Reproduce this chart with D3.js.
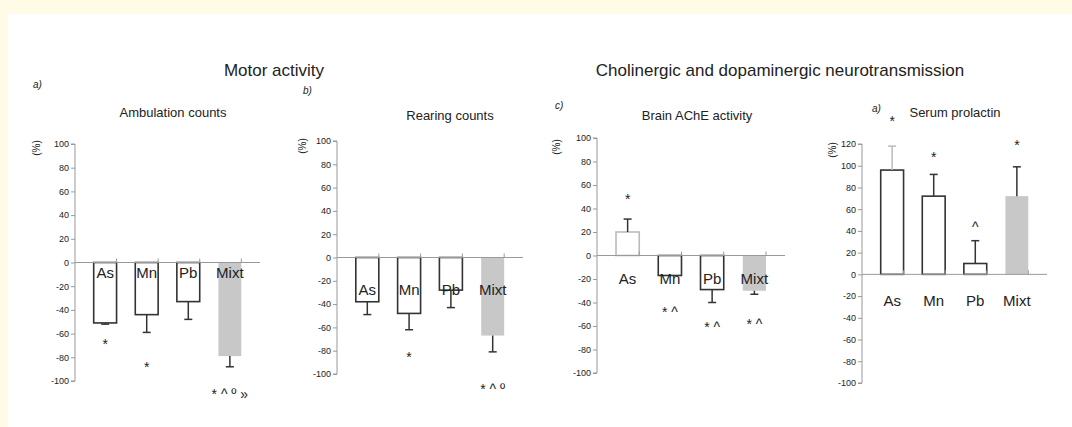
<!DOCTYPE html>
<html>
<head>
<meta charset="utf-8">
<script src="https://cdn.jsdelivr.net/npm/d3@7"></script>
<style>
  body { margin: 0; background: #fff; }
  svg text { font-family: "Liberation Sans Narrow", "Liberation Sans", Arial, sans-serif; fill: #222; }
</style>
</head>
<body>
<svg id="chart" width="1072" height="427"></svg>
<script>
// categories shared by the four panels
const categories = ["As", "Mn", "Pb", "Mixt"];

// a) ambulation counts (% of control)
const ambulation = [-51, -44, -33, -79];
const ambulationErr = [1, 15, 15, 9];
const ambulationSig = ["*", "*", "", "*  ^  º  »"];
const ambulationSigAt = [-68, -87, null, -110];

// b) rearing counts
const rearing = [-38, -48, -28, -67];
const rearingErr = [11, 14, 15, 14];
const rearingSig = ["", "*", "", "*  ^  º"];
const rearingSigAt = [null, -84, null, -112];

// c) brain AChE activity
const ache = [20, -17, -29, -30];
const acheErr = [11, 0, 11, 3];
const acheSig = ["*", "*  ^", "*  ^", "*  ^"];
const acheSigAt = [49, -47, -60, -57];

// d) serum prolactin
const prolactin = [96, 72, 10, 72];
const prolactinErr = [22, 20, 21, 27];
const prolactinSig = ["*", "*", "^", "*"];
const prolactinSigAt = [142, 109, 45, 120];

const ticksAC = [100, 80, 60, 40, 20, 0, -20, -40, -60, -80, -100];
const ticksD = [120, 100, 80, 60, 40, 20, 0, -20, -40, -60, -80, -100];

const svg = d3.select("#chart");

// cream frame on top and left
svg.append("rect").attr("width", 1072).attr("height", 427).attr("fill", "#fffbe6");
svg.append("rect").attr("x", 8).attr("y", 14).attr("width", 1064).attr("height", 413).attr("fill", "#fff");

// group titles
svg.append("text").attr("x", 274).attr("y", 76).attr("text-anchor", "middle")
  .style("font-size", "17px").text("Motor activity");
svg.append("text").attr("x", 780).attr("y", 76).attr("text-anchor", "middle")
  .style("font-size", "17px").text("Cholinergic and dopaminergic neurotransmission");

const panels = [
  { letter: "a)", title: "Ambulation counts", values: ambulation, err: ambulationErr, sig: ambulationSig, sigAt: ambulationSigAt,
    ticks: ticksAC, domain: [-100, 100], x0: 75, x1: 260, yTop: 144, yBot: 381,
    letterPos: [33, 88], titlePos: [173, 117], unitPos: [36, 148], labelDy: 10, faintBar: -1, faintErr: -1 },
  { letter: "b)", title: "Rearing counts", values: rearing, err: rearingErr, sig: rearingSig, sigAt: rearingSigAt,
    ticks: ticksAC, domain: [-100, 100], x0: 337, x1: 523, yTop: 141, yBot: 374,
    letterPos: [303, 94], titlePos: [450, 120], unitPos: [302, 146], labelDy: 32, faintBar: -1, faintErr: -1 },
  { letter: "c)", title: "Brain AChE activity", values: ache, err: acheErr, sig: acheSig, sigAt: acheSigAt,
    ticks: ticksAC, domain: [-100, 100], x0: 597, x1: 785, yTop: 138, yBot: 373,
    letterPos: [555, 109], titlePos: [697, 120], unitPos: [556, 147], labelDy: 23, faintBar: 0, faintErr: -1 },
  { letter: "a)", title: "Serum prolactin", values: prolactin, err: prolactinErr, sig: prolactinSig, sigAt: prolactinSigAt,
    ticks: ticksD, domain: [-100, 120], x0: 862, x1: 1047, yTop: 144, yBot: 383,
    letterPos: [872, 112], titlePos: [955, 117], unitPos: [832, 150], labelDy: 26, faintBar: -1, faintErr: 0 }
];

panels.forEach(p => {
  const g = svg.append("g");
  const x = d3.scaleBand().domain(categories).range([p.x0, p.x1]).padding(0.45);
  const y = d3.scaleLinear().domain(p.domain).range([p.yBot, p.yTop]);
  const rows = categories.map((c, i) => ({ cat: c, v: p.values[i], e: p.err[i], s: p.sig[i], sAt: p.sigAt[i], i }));

  g.append("text").attr("x", p.letterPos[0]).attr("y", p.letterPos[1])
    .style("font-size", "10px").style("font-style", "italic").text(p.letter);
  g.append("text").attr("x", p.titlePos[0]).attr("y", p.titlePos[1]).attr("text-anchor", "middle")
    .style("font-size", "13px").text(p.title);
  g.append("text").attr("transform", `translate(${p.unitPos[0]},${p.unitPos[1]}) rotate(-90)`)
    .attr("text-anchor", "middle").attr("dy", "0.35em").style("font-size", "10px").text("(%)");

  // y axis
  const yAxis = g.append("g").attr("transform", `translate(${p.x0},0)`)
    .call(d3.axisLeft(y).tickValues(p.ticks).tickSize(4).tickPadding(2).tickFormat(d => String(d)));
  yAxis.selectAll("path, line").attr("stroke", "#999");
  yAxis.selectAll("text").style("font-size", "9px").attr("fill", "#333");
  yAxis.select(".domain").attr("d", `M-4,${y(p.domain[1])}H0V${y(p.domain[0])}H-4`);

  // bars
  g.selectAll(".bar").data(rows).join("rect")
    .attr("x", d => x(d.cat))
    .attr("y", d => y(Math.max(0, d.v)))
    .attr("width", x.bandwidth())
    .attr("height", d => Math.abs(y(d.v) - y(0)))
    .attr("fill", d => d.cat === "Mixt" ? "#c8c8c8" : "#fff")
    .attr("stroke", d => d.cat === "Mixt" ? "none" : (d.i === p.faintBar ? "#bbb" : "#333"))
    .attr("stroke-width", 1.6);

  // error bars (away from zero)
  const errEnd = d => d.v >= 0 ? d.v + d.e : d.v - d.e;
  const eb = g.selectAll(".err").data(rows.filter(d => d.e > 0)).join("g")
    .attr("stroke", d => d.i === p.faintErr ? "#bbb" : "#333").attr("stroke-width", 1.5);
  eb.append("line")
    .attr("x1", d => x(d.cat) + x.bandwidth() / 2).attr("x2", d => x(d.cat) + x.bandwidth() / 2)
    .attr("y1", d => y(d.v)).attr("y2", d => y(errEnd(d)));
  eb.append("line")
    .attr("x1", d => x(d.cat) + x.bandwidth() / 2 - 4).attr("x2", d => x(d.cat) + x.bandwidth() / 2 + 4)
    .attr("y1", d => y(errEnd(d))).attr("y2", d => y(errEnd(d)));

  // zero line with category ticks
  const xAxis = g.append("g").attr("transform", `translate(0,${y(0)})`)
    .call(d3.axisTop(x).tickSize(0).tickFormat(""));
  xAxis.select(".domain").attr("stroke", "#999").attr("d", `M${p.x0},0H${p.x1}`);
  const step = x.step();
  g.selectAll(".xt").data(categories).join("line")
    .attr("x1", (d, i) => p.x0 + step * (i + 1)).attr("x2", (d, i) => p.x0 + step * (i + 1))
    .attr("y1", y(0)).attr("y2", y(0) - 4).attr("stroke", "#999");

  // category labels
  g.selectAll(".cl").data(rows).join("text")
    .attr("x", d => x(d.cat) + x.bandwidth() / 2)
    .attr("y", y(0) + p.labelDy).attr("dy", "0.35em")
    .attr("text-anchor", "middle").style("font-size", "15px")
    .attr("fill", d => d.cat === "Mixt" && p.letter !== "a)" ? "#444" : "#222")
    .text(d => d.cat);

  // significance marks
  g.selectAll(".sig").data(rows.filter(d => d.s)).join("text")
    .attr("x", d => x(d.cat) + x.bandwidth() / 2)
    .attr("y", d => y(d.sAt)).attr("dy", "0.45em")
    .attr("text-anchor", "middle").style("font-size", "14px")
    .text(d => d.s);
});
</script>
</body>
</html>
